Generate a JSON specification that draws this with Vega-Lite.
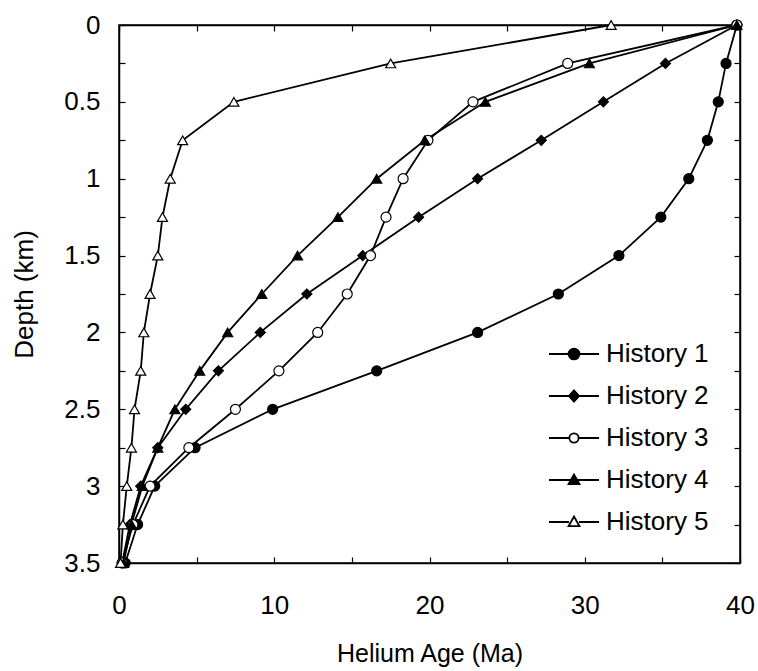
{
  "$schema": "https://vega.github.io/schema/vega-lite/v6.json",
  "width": 621,
  "height": 538,
  "autosize": "none",
  "padding": {"left": 119, "top": 25, "right": 18, "bottom": 108},
  "config": {
    "font": "Liberation Sans",
    "view": {"stroke": "black", "strokeWidth": 1.5},
    "axis": {"domainColor": "black", "domainWidth": 1.5, "tickColor": "black", "tickWidth": 1.2, "grid": false, "labelColor": "black", "titleColor": "black", "labelFontWeight": "normal", "titleFontWeight": "normal", "labelFont": "Liberation Sans", "titleFont": "Liberation Sans"}
  },
  "data": {"values": [
    {"series": "History 1", "depth": 0, "age": 39.8},
    {"series": "History 1", "depth": 0.25, "age": 39.1},
    {"series": "History 1", "depth": 0.5, "age": 38.6},
    {"series": "History 1", "depth": 0.75, "age": 37.9},
    {"series": "History 1", "depth": 1, "age": 36.7},
    {"series": "History 1", "depth": 1.25, "age": 34.9},
    {"series": "History 1", "depth": 1.5, "age": 32.2},
    {"series": "History 1", "depth": 1.75, "age": 28.3},
    {"series": "History 1", "depth": 2, "age": 23.1},
    {"series": "History 1", "depth": 2.25, "age": 16.6},
    {"series": "History 1", "depth": 2.5, "age": 9.9},
    {"series": "History 1", "depth": 2.75, "age": 4.9},
    {"series": "History 1", "depth": 3, "age": 2.3},
    {"series": "History 1", "depth": 3.25, "age": 1.2},
    {"series": "History 1", "depth": 3.5, "age": 0.4},
    {"series": "History 2", "depth": 0, "age": 39.8},
    {"series": "History 2", "depth": 0.25, "age": 35.2},
    {"series": "History 2", "depth": 0.5, "age": 31.2},
    {"series": "History 2", "depth": 0.75, "age": 27.2},
    {"series": "History 2", "depth": 1, "age": 23.1},
    {"series": "History 2", "depth": 1.25, "age": 19.3},
    {"series": "History 2", "depth": 1.5, "age": 15.7},
    {"series": "History 2", "depth": 1.75, "age": 12.1},
    {"series": "History 2", "depth": 2, "age": 9.1},
    {"series": "History 2", "depth": 2.25, "age": 6.4},
    {"series": "History 2", "depth": 2.5, "age": 4.3},
    {"series": "History 2", "depth": 2.75, "age": 2.5},
    {"series": "History 2", "depth": 3, "age": 1.4},
    {"series": "History 2", "depth": 3.25, "age": 0.7},
    {"series": "History 2", "depth": 3.5, "age": 0.2},
    {"series": "History 3", "depth": 0, "age": 39.8},
    {"series": "History 3", "depth": 0.25, "age": 28.9},
    {"series": "History 3", "depth": 0.5, "age": 22.8},
    {"series": "History 3", "depth": 0.75, "age": 19.9},
    {"series": "History 3", "depth": 1, "age": 18.3},
    {"series": "History 3", "depth": 1.25, "age": 17.2},
    {"series": "History 3", "depth": 1.5, "age": 16.2},
    {"series": "History 3", "depth": 1.75, "age": 14.7},
    {"series": "History 3", "depth": 2, "age": 12.8},
    {"series": "History 3", "depth": 2.25, "age": 10.3},
    {"series": "History 3", "depth": 2.5, "age": 7.5},
    {"series": "History 3", "depth": 2.75, "age": 4.5},
    {"series": "History 3", "depth": 3, "age": 2.0},
    {"series": "History 3", "depth": 3.25, "age": 0.9},
    {"series": "History 3", "depth": 3.5, "age": 0.2},
    {"series": "History 4", "depth": 0, "age": 39.8},
    {"series": "History 4", "depth": 0.25, "age": 30.3},
    {"series": "History 4", "depth": 0.5, "age": 23.6},
    {"series": "History 4", "depth": 0.75, "age": 19.7},
    {"series": "History 4", "depth": 1, "age": 16.6},
    {"series": "History 4", "depth": 1.25, "age": 14.1},
    {"series": "History 4", "depth": 1.5, "age": 11.5},
    {"series": "History 4", "depth": 1.75, "age": 9.2},
    {"series": "History 4", "depth": 2, "age": 7.0},
    {"series": "History 4", "depth": 2.25, "age": 5.2},
    {"series": "History 4", "depth": 2.5, "age": 3.6},
    {"series": "History 4", "depth": 2.75, "age": 2.5},
    {"series": "History 4", "depth": 3, "age": 1.5},
    {"series": "History 4", "depth": 3.25, "age": 0.8},
    {"series": "History 4", "depth": 3.5, "age": 0.3},
    {"series": "History 5", "depth": 0, "age": 31.7},
    {"series": "History 5", "depth": 0.25, "age": 17.5},
    {"series": "History 5", "depth": 0.5, "age": 7.4},
    {"series": "History 5", "depth": 0.75, "age": 4.1},
    {"series": "History 5", "depth": 1, "age": 3.3},
    {"series": "History 5", "depth": 1.25, "age": 2.8},
    {"series": "History 5", "depth": 1.5, "age": 2.5},
    {"series": "History 5", "depth": 1.75, "age": 2.0},
    {"series": "History 5", "depth": 2, "age": 1.6},
    {"series": "History 5", "depth": 2.25, "age": 1.4},
    {"series": "History 5", "depth": 2.5, "age": 1.0},
    {"series": "History 5", "depth": 2.75, "age": 0.8},
    {"series": "History 5", "depth": 3, "age": 0.5},
    {"series": "History 5", "depth": 3.25, "age": 0.25},
    {"series": "History 5", "depth": 3.5, "age": 0.1}
  ]},
  "layer": [
    {
      "mark": {"type": "line", "color": "black", "strokeWidth": 1.8},
      "encoding": {
        "x": {"field": "age", "type": "quantitative", "scale": {"domain": [0, 40], "nice": false},
          "axis": {"orient": "bottom", "title": "Helium Age (Ma)", "values": [0,5,10,15,20,25,30,35,40], "labelExpr": "datum.value % 10 === 0 ? datum.label : ''", "tickSize": -6, "labelPadding": 35, "labelFontSize": 26, "titleFontSize": 25, "titlePadding": 23, "labelFlush": false}},
        "y": {"field": "depth", "type": "quantitative", "scale": {"domain": [0, 3.5], "nice": false, "reverse": true},
          "axis": {"orient": "left", "title": "Depth (km)", "values": [0,0.25,0.5,0.75,1,1.25,1.5,1.75,2,2.25,2.5,2.75,3,3.25,3.5], "labelExpr": "datum.value % 0.5 === 0 ? format(datum.value, '~g') : ''", "tickSize": -6, "labelPadding": 25, "labelFontSize": 26, "titleFontSize": 26, "titlePadding": 26, "labelFlush": false}},
        "detail": {"field": "series"},
        "order": {"field": "depth"}
      }
    },
    {
      "mark": {"type": "point", "filled": false, "stroke": "black", "strokeWidth": 1.2, "size": 100, "opacity": 1},
      "encoding": {
        "x": {"field": "age", "type": "quantitative",
          "axis": {"orient": "top", "title": null, "values": [0,5,10,15,20,25,30,35,40], "labels": false, "tickSize": -6}},
        "y": {"field": "depth", "type": "quantitative",
          "axis": {"orient": "right", "title": null, "values": [0,0.25,0.5,0.75,1,1.25,1.5,1.75,2,2.25,2.5,2.75,3,3.25,3.5], "labels": false, "tickSize": -6}},
        "shape": {"field": "series", "type": "nominal",
          "scale": {"domain": ["History 1","History 2","History 3","History 4","History 5"], "range": ["circle","diamond","circle","triangle-up","triangle-up"]},
          "legend": null},
        "fill": {"field": "series", "type": "nominal",
          "scale": {"domain": ["History 1","History 2","History 3","History 4","History 5"], "range": ["black","black","white","black","white"]},
          "legend": null}
      }
    },
    {
      "transform": [{"filter": "datum.series === 'legend only'"}],
      "mark": {"type": "point", "filled": false, "stroke": "black", "strokeWidth": 1.8, "opacity": 1},
      "encoding": {
        "shape": {"field": "series", "type": "nominal",
          "scale": {"domain": ["History 1","History 2","History 3","History 4","History 5"],
            "range": [
              "M-1.19,0L-0.26,0M0.26,0L1.19,0M0.26,0A0.26,0.26,0,1,1,-0.26,0A0.26,0.26,0,1,1,0.26,0Z",
              "M-1.19,0L1.19,0M0,-0.27L0.24,0L0,0.27L-0.24,0Z",
              "M-1.19,0L-0.22,0M0.22,0L1.19,0M0.22,0A0.22,0.22,0,1,1,-0.22,0A0.22,0.22,0,1,1,0.22,0Z",
              "M-1.19,0L1.19,0M0,-0.26L0.26,0.2L-0.26,0.2Z",
              "M-1.19,0L-0.24,0M0.24,0L1.19,0M0,-0.26L0.26,0.2L-0.26,0.2Z"
            ]},
          "legend": {
            "title": null, "orient": "none", "legendX": 433, "legendY": 307, "padding": 0,
            "symbolSize": 1764, "rowPadding": 7, "labelOffset": 10, "labelFontSize": 26, "labelColor": "black", "labelFont": "Liberation Sans",
            "symbolStrokeWidth": 1.8, "symbolOpacity": 1
          }},
        "fill": {"field": "series", "type": "nominal",
          "scale": {"domain": ["History 1","History 2","History 3","History 4","History 5"], "range": ["black","black","white","black","white"]},
          "legend": null}
      }
    }
  ],
  "resolve": {"axis": {"x": "independent", "y": "independent"}, "scale": {"shape": "independent", "fill": "independent"}}
}
